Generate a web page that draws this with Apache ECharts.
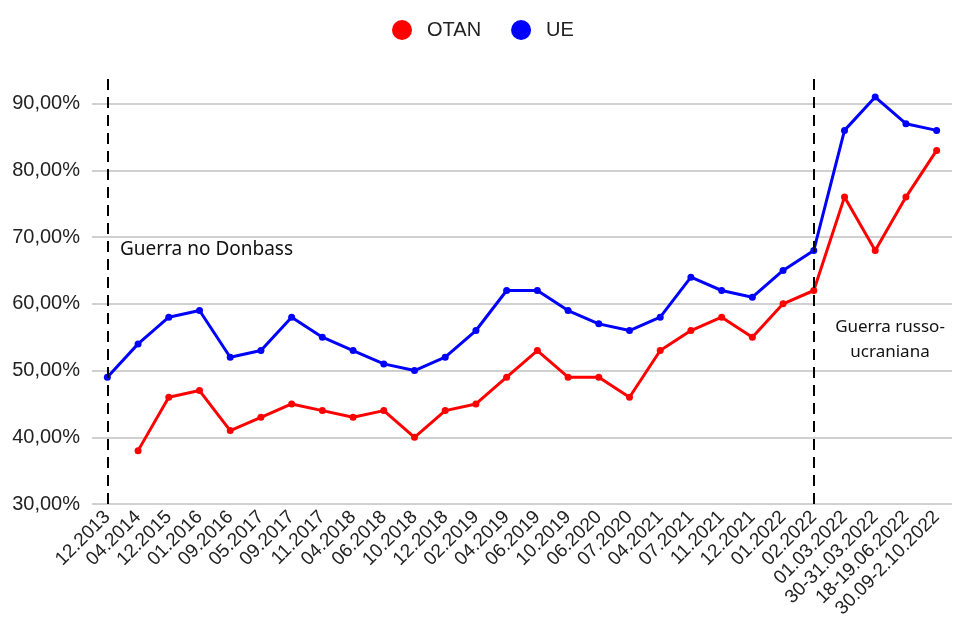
<!DOCTYPE html>
<html>
<head>
<meta charset="utf-8">
<script src="https://cdn.jsdelivr.net/npm/echarts@6/dist/echarts.min.js"></script>
<style>
  html, body { margin: 0; padding: 0; background: #fff; }
  #chart { width: 957px; height: 633px; }
</style>
</head>
<body>
<div id="chart"></div>
<script>
const categories = [
  "12.2013", "04.2014", "12.2015", "01.2016", "09.2016", "05.2017", "09.2017",
  "11.2017", "04.2018", "06.2018", "10.2018", "12.2018", "02.2019", "04.2019",
  "06.2019", "10.2019", "06.2020", "07.2020", "04.2021", "07.2021", "11.2021",
  "12.2021", "01.2022", "02.2022", "01.03.2022", "30-31.03.2022",
  "18-19.06.2022", "30.09-2.10.2022"
];
const otan = [
  null, 38, 46, 47, 41, 43, 45, 44, 43, 44, 40, 44, 45, 49,
  53, 49, 49, 46, 53, 56, 58, 55, 60, 62, 76, 68, 76, 83
];
const ue = [
  49, 54, 58, 59, 52, 53, 58, 55, 53, 51, 50, 52, 56, 62,
  62, 59, 57, 56, 58, 64, 62, 61, 65, 68, 86, 91, 87, 86
];
// periodos marcados com linha tracejada
const eventLines = ["12.2013", "02.2022"];

const chart = echarts.init(document.getElementById("chart"));

const option = {
  animation: false,
  legend: {
    top: 15,
    left: 387,
    icon: "circle",
    itemWidth: 20,
    itemHeight: 20,
    itemGap: 30,
    textStyle: {
      fontFamily: "Liberation Sans",
      fontSize: 20,
      color: "#222",
      padding: [0, 0, 0, 10]
    },
    data: ["OTAN", "UE"]
  },
  // topo um pouco acima de 90% para as linhas tracejadas
  grid: { left: 92, right: 5, top: 77, bottom: 129 },
  xAxis: {
    type: "category",
    data: categories,
    boundaryGap: true,
    axisLine: { show: false },
    axisTick: { show: false },
    axisLabel: {
      rotate: 45,
      interval: 0,
      margin: 10,
      color: "#222",
      fontFamily: "Liberation Sans",
      fontSize: 19
    }
  },
  yAxis: {
    type: "value",
    min: 30,
    max: 94,
    interval: 10,
    axisLine: { show: false },
    axisTick: { show: false },
    splitLine: { showMaxLine: false, lineStyle: { color: "#d0d0d0", width: 2 } },
    axisLabel: {
      margin: 12,
      showMaxLabel: false,
      color: "#222",
      fontFamily: "Liberation Sans",
      fontSize: 20,
      formatter: (v) => v.toFixed(2).replace(".", ",") + "%"
    }
  },
  series: [
    {
      name: "OTAN",
      type: "line",
      data: otan,
      color: "#ff0000",
      symbol: "circle",
      symbolSize: 7,
      lineStyle: { width: 3 },
      connectNulls: false
    },
    {
      name: "UE",
      type: "line",
      data: ue,
      color: "#0000ff",
      symbol: "circle",
      symbolSize: 7,
      lineStyle: { width: 3 },
      markLine: {
        silent: true,
        symbol: "none",
        label: { show: false },
        lineStyle: { color: "#000", type: [11, 7], width: 2 },
        data: eventLines.map((c) => ({ xAxis: c }))
      }
    }
  ],
  graphic: [
    {
      type: "text",
      left: 120,
      top: 240,
      style: {
        text: "Guerra no Donbass",
        font: "19px 'Noto Sans'",
        fill: "#111"
      }
    },
    {
      type: "text",
      x: 890,
      y: 315,
      style: {
        text: "Guerra russo-\nucraniana",
        font: "17px 'Noto Sans'",
        fill: "#111",
        align: "center",
        lineHeight: 25
      }
    }
  ]
};

chart.setOption(option);
</script>
</body>
</html>
